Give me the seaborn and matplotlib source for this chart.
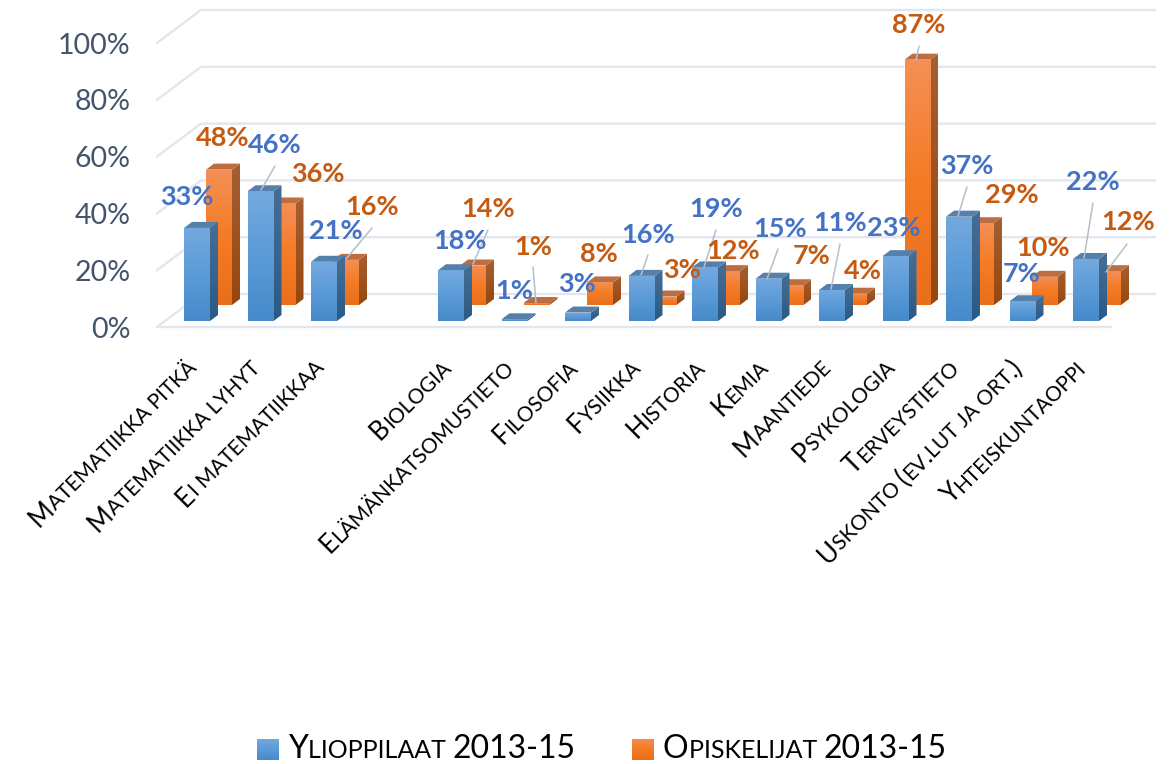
"""3D-style column chart: Ylioppilaat vs Opiskelijat 2013-15, per school subject."""

from itertools import groupby

import matplotlib.pyplot as plt
import numpy as np
import pandas as pd
import seaborn as sns
from matplotlib.colors import LinearSegmentedColormap
from matplotlib.patches import Polygon

# Data
CATEGORIES = [
    "Matematiikka pitkä", "Matematiikka lyhyt", "Ei matematiikkaa", " ",
    "Biologia", "Elämänkatsomustieto", "Filosofia", "Fysiikka", "Historia", "Kemia",
    "Maantiede", "Psykologia", "Terveystieto", "Uskonto (ev.lut ja ort.)", "Yhteiskuntaoppi",
]
YLIOPPILAAT = [33, 46, 21, np.nan, 18, 0.6, 3, 16, 19, 15, 11, 23, 37, 7, 22]
OPISKELIJAT = [48, 36, 16, np.nan, 14, 0.7, 8, 3, 12, 7, 4, 87, 29, 10, 12]
GRID_VALUES = [0, 20, 40, 60, 80, 100]
SERIES_NAMES = ["Ylioppilaat 2013-15", "Opiskelijat 2013-15"]

# Layout, in pixels of the 1173x764 figure
W, H = 1173, 764
AX_LEFT = 135
CAT_X0, CAT_STEP = 197, 63.5
BASE_Y, PX_PER_PCT = 321, 2.82
GRID_STEP = 56.8
DEPTH_X, DEPTH_Y = 8, 6
BACK_X, BACK_Y = 22, 16

# Data label centres (blank category left out)
BLUE_LABELS = [(187, 197), (275, 145), (336, 231), (460, 241), (514, 291), (577, 284), (648, 235),
               (716, 209), (780, 229), (840, 223), (894, 228), (967, 166), (1022, 274), (1093, 182)]
ORANGE_LABELS = [(223, 138), (318, 174), (372, 207), (488, 209), (533, 247), (599, 254), (682, 270),
                 (733, 251), (812, 256), (863, 271), (919, 25), (1012, 195), (1043, 248), (1128, 222)]
LEADERS = [((275, 166), (261, 190)), ((372, 228), (346, 259)), ((488, 230), (473, 264)),
           ((533, 267), (536, 303)), ((648, 255), (641, 275)), ((716, 230), (704, 267)),
           ((778, 249), (767, 279)), ((840, 244), (831, 289)), ((919, 46), (916, 60)),
           ((967, 187), (958, 216)), ((1093, 203), (1084, 258)), ((1127, 244), (1106, 272))]

# Colours: front top/mid/bottom, side top/bottom, roof
BLUE = dict(front=["#74A9DF", "#5B9BD8", "#468ACA"], side=["#466E96", "#2B5A84"], roof="#5480AB")
ORANGE = dict(front=["#F48F55", "#F57B25", "#EA6F1C"], side=["#A65F33", "#95470E"], roof="#BC6E40")
GRID_COLOR = "#E3E6ED"


def px_x(x):
    return (x - CAT_X0) / CAT_STEP


def px_y(y):
    return (BASE_Y - y) / PX_PER_PCT


def shade(ax, patch, colors, zorder):
    """Paint a vertical gradient inside a patch."""
    verts = patch.get_patch_transform().transform(patch.get_path().vertices)
    x0, y0 = verts.min(axis=0)
    x1, y1 = verts.max(axis=0)
    cmap = LinearSegmentedColormap.from_list("g", colors)
    im = ax.imshow(np.linspace(0, 1, 64)[:, None], cmap=cmap, extent=(x0, x1, y0, y1), origin="upper",
                   aspect="auto", interpolation="bilinear", zorder=zorder)
    im.set_clip_path(patch)


def draw_bars(ax, bars, style, zorder, dx=0, dy=0):
    """Shift the seaborn bars to their depth row and add the side and roof faces."""
    depth_x, depth_y = DEPTH_X / CAT_STEP, DEPTH_Y / PX_PER_PCT
    for bar in bars:
        bar.set_x(bar.get_x() + dx)
        bar.set_y(bar.get_y() + dy)
        bar.set_zorder(zorder)
        x0, x1 = bar.get_x(), bar.get_x() + bar.get_width()
        y0, y1 = bar.get_y(), bar.get_y() + bar.get_height()
        side = Polygon([(x1, y0), (x1 + depth_x, y0 + depth_y), (x1 + depth_x, y1 + depth_y), (x1, y1)],
                       fc="none", ec="none", zorder=zorder)
        ax.add_patch(side)
        shade(ax, side, style["side"], zorder + 0.1)
        roof = Polygon([(x0, y1), (x0 + depth_x, y1 + depth_y), (x1 + depth_x, y1 + depth_y), (x1, y1)],
                       fc=style["roof"], ec="none", zorder=zorder + 0.1)
        ax.add_patch(roof)
        shade(ax, bar, style["front"], zorder + 0.2)


def small_caps_runs(label):
    """Split a label into (text, is_small) runs, lowercase letters becoming small capitals."""
    runs = []
    for small, chars in groupby(label, key=lambda c: c.islower() or c == " "):
        text = "".join(chars)
        runs.append((text.upper() if small else text, small))
    return runs


def text_width(ax, renderer, text, size):
    probe = ax.text(0, 0, text + ".", fontsize=size)
    dot = ax.text(0, 0, ".", fontsize=size)
    width = probe.get_window_extent(renderer).width - dot.get_window_extent(renderer).width
    probe.remove()
    dot.remove()
    return width


def small_caps_text(ax, renderer, label, x, y, big, small, angle=0, anchor="left", color="black"):
    """Write a small-caps label with its baseline starting or ending at pixel (x, y)."""
    runs = small_caps_runs(label)
    widths = [text_width(ax, renderer, t, small if s else big) for t, s in runs]
    cos, sin = np.cos(np.radians(angle)), np.sin(np.radians(angle))
    pos = -sum(widths) if anchor == "right" else 0
    for (text, is_small), width in zip(runs, widths):
        ax.text(px_x(x + pos * cos), px_y(y - pos * sin), text, fontsize=small if is_small else big,
                rotation=angle, rotation_mode="anchor", ha="left", va="baseline", color=color, zorder=7)
        pos += width


def main():
    sns.set_theme(style="white")
    plt.rcParams["font.family"] = ["Lato", "DejaVu Sans"]

    df = pd.DataFrame({"aine": CATEGORIES, "yo": YLIOPPILAAT, "op": OPISKELIJAT})

    fig = plt.figure(figsize=(W / 100, H / 100), dpi=100)
    ax = fig.add_axes([AX_LEFT / W, 0, 1 - AX_LEFT / W, 1])
    ax.patch.set_alpha(0)

    sns.barplot(df, x="aine", y="yo", order=CATEGORIES, width=26 / CAT_STEP, color=BLUE["front"][1],
                saturation=1, errorbar=None, ax=ax)
    sns.barplot(df, x="aine", y="op", order=CATEGORIES, width=26 / CAT_STEP, color=ORANGE["front"][1],
                saturation=1, errorbar=None, ax=ax)

    draw_bars(ax, ax.containers[1], ORANGE, 2, BACK_X / CAT_STEP, BACK_Y / PX_PER_PCT)
    draw_bars(ax, ax.containers[0], BLUE, 3)

    # Floor and wall gridlines
    front_y = [327 - GRID_STEP * i for i in range(len(GRID_VALUES))]
    for y in front_y:
        ax.plot([px_x(157), px_x(201), px_x(1155)], [px_y(y), px_y(y - 33), px_y(y - 33)],
                color=GRID_COLOR, lw=1.7, zorder=1, solid_joinstyle="round")
    ax.plot([px_x(157), px_x(1111)], [px_y(327), px_y(327)], color=GRID_COLOR, lw=1.7, zorder=1)

    ax.set_xlim(px_x(AX_LEFT), px_x(W))
    ax.set_ylim(px_y(H), px_y(0))
    ax.set_xticks([])
    ax.set_yticks([px_y(y) for y in front_y], [f"{v}%" for v in GRID_VALUES])
    ax.tick_params(axis="y", length=0, pad=3, labelsize=20.5, labelcolor="#44546A")
    ax.set_xlabel("")
    ax.set_ylabel("")
    sns.despine(ax=ax, left=True, bottom=True)

    # Leader lines
    for (x0, y0), (x1, y1) in LEADERS:
        ax.plot([px_x(x0), px_x(x1)], [px_y(y0), px_y(y1)], color="#B4BFCD", lw=1.1, zorder=5)

    # Data labels
    for values, places, color in [(YLIOPPILAAT, BLUE_LABELS, "#4472C4"), (OPISKELIJAT, ORANGE_LABELS, "#C55A11")]:
        shown = [v for v in values if not np.isnan(v)]
        for v, (x, y) in zip(shown, places):
            ax.text(px_x(x), px_y(y), f"{v:.0f}%", color=color, fontsize=19.5, fontweight="bold",
                    ha="center", va="center", zorder=6)

    # Category labels, rotated small caps
    renderer = fig.canvas.get_renderer()
    for i, label in enumerate(CATEGORIES):
        if label.strip():
            small_caps_text(ax, renderer, label, CAT_X0 + i * CAT_STEP + 1, 369, 18.5, 15, angle=45, anchor="right")

    # Legend
    for name, style, sw_x, text_x in zip(SERIES_NAMES, [BLUE, ORANGE], [257, 632], [288, 663]):
        swatch = Polygon([(px_x(sw_x), px_y(760)), (px_x(sw_x + 22), px_y(760)),
                          (px_x(sw_x + 22), px_y(739)), (px_x(sw_x), px_y(739))], fc="none", ec="none")
        ax.add_patch(swatch)
        shade(ax, swatch, style["front"], 3)
        small_caps_text(ax, renderer, name, text_x, 758, 23, 18)
    ax.set_xlim(px_x(AX_LEFT), px_x(W))
    ax.set_ylim(px_y(H), px_y(0))

    fig.savefig("out.png", dpi=100)


if __name__ == "__main__":
    main()
